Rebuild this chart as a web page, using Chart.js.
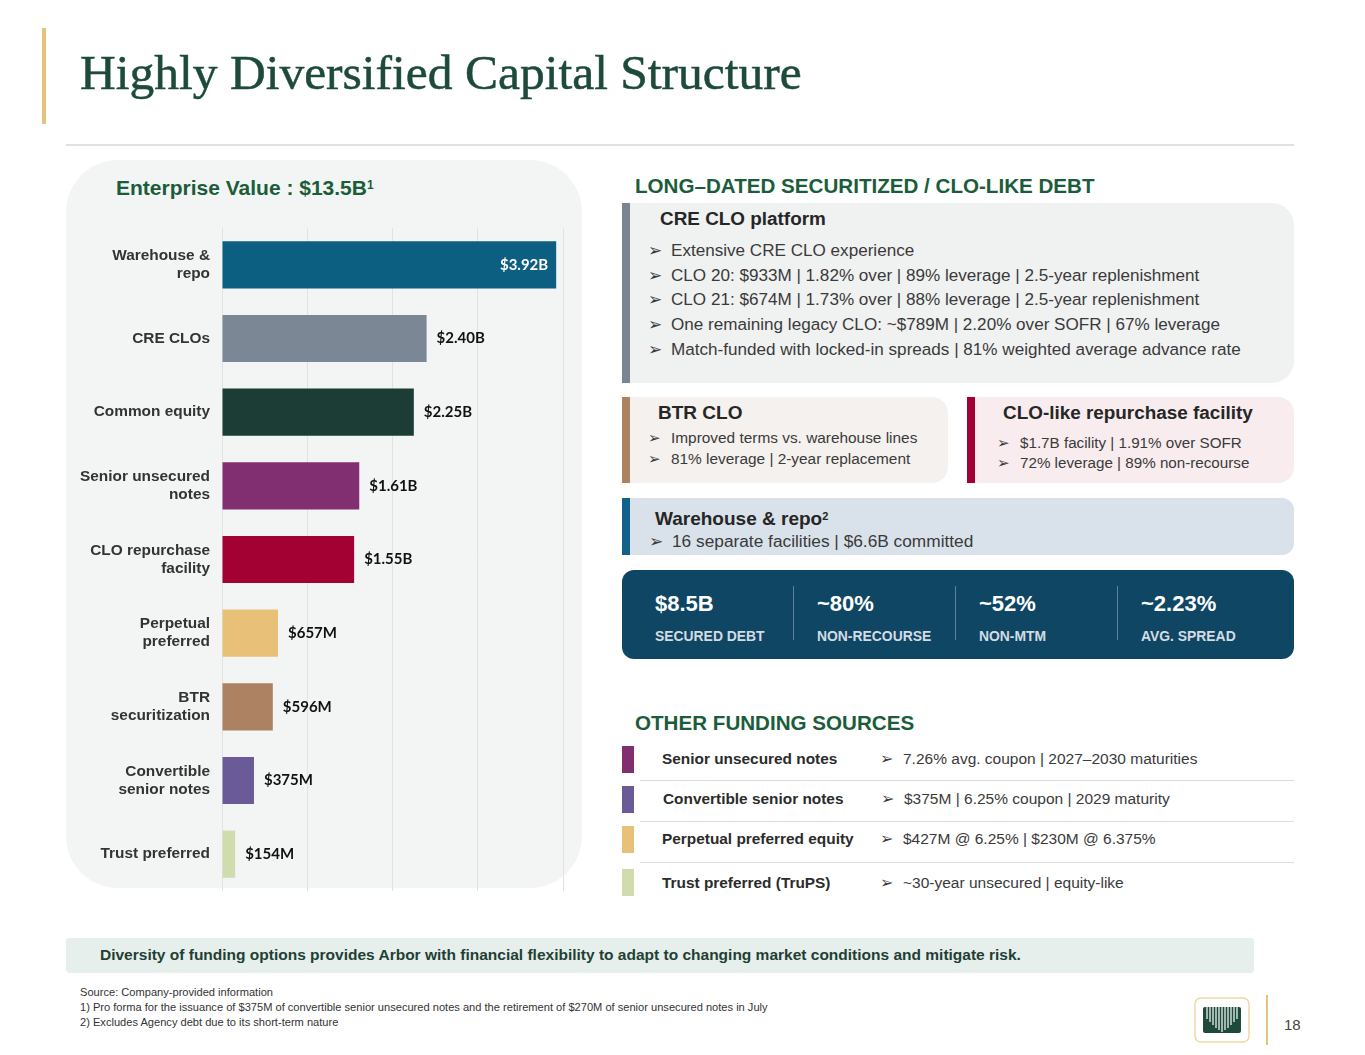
<!DOCTYPE html>
<html>
<head>
<meta charset="utf-8">
<script src="https://cdn.jsdelivr.net/npm/chart.js@4.4.1/dist/chart.umd.min.js"></script>
<style>
  body { margin: 0; background: #fff; font-family: "Liberation Sans", Arial, sans-serif; }
  #slide { position: relative; width: 1365px; height: 1055px; overflow: hidden; background: #fff; }
  .abs { position: absolute; }
  .title { left: 80px; top: 44px; font-family: "Liberation Serif", "DejaVu Serif", serif; font-size: 49.5px; color: #1d4a3b; white-space: nowrap; -webkit-text-stroke: 0.5px #1d4a3b; }
  .green-h { color: #1b5d3a; font-weight: bold; font-size: 20.6px; white-space: nowrap; }
  .panel { position: absolute; overflow: hidden; }
  .panel .bar { position: absolute; left: 0; top: 0; bottom: 0; width: 8px; }
  .ptitle { position: absolute; font-weight: bold; color: #262626; white-space: nowrap; }
  .bul { position: absolute; color: #3a3a3a; white-space: nowrap; }
  .ar { display: inline-block; width: 23px; }
  .stat { position: absolute; color: #fff; font-weight: bold; font-size: 22px; }
  .stat-l { position: absolute; color: #d3dce2; font-weight: bold; font-size: 13.9px; white-space: nowrap; }
  .divv { position: absolute; width: 1px; background: #5f819a; top: 586px; height: 54px; }
  .mark { position: absolute; left: 622px; width: 12px; height: 27px; }
  .rl { position: absolute; left: 662px; font-weight: bold; font-size: 15.4px; color: #2b2b2b; white-space: nowrap; }
  .rt { position: absolute; left: 880px; font-size: 15.5px; color: #3a3a3a; white-space: nowrap; }
  .sep { position: absolute; left: 640px; width: 654px; height: 1px; background: #dcdcdc; }
  .fn { position: absolute; left: 80px; font-size: 11.1px; color: #333; white-space: nowrap; }
</style>
</head>
<body>
<div id="slide">
  <div class="abs" style="left:42px;top:28px;width:4px;height:96px;background:#e5c27e;"></div>
  <div class="abs title">Highly Diversified Capital Structure</div>
  <div class="abs" style="left:66px;top:144px;width:1228px;height:2px;background:#dfe1e2;"></div>

  <!-- left chart panel -->
  <div class="abs" style="left:66px;top:160px;width:516px;height:728px;background:#f3f4f4;border-radius:52px;"></div>
  <div class="abs green-h" style="left:116px;top:176px;font-size:21px;">Enterprise Value : $13.5B<span style="font-size:12px;vertical-align:6px;">1</span></div>
  <canvas id="capChart" class="abs" style="left:66px;top:228px;" width="514" height="663"></canvas>

  <!-- right side -->
  <div class="abs green-h" style="left:635px;top:174px;">LONG–DATED SECURITIZED / CLO-LIKE DEBT</div>

  <div class="panel" style="left:622px;top:203px;width:672px;height:180px;background:#f0f1f1;border-radius:0 22px 22px 0;">
    <div class="bar" style="background:#7b8591;"></div>
  </div>
  <div class="ptitle" style="left:660px;top:208px;font-size:18.9px;">CRE CLO platform</div>
  <div class="bul" style="left:648px;top:240px;font-size:17.1px;"><span class="ar">➢</span>Extensive CRE CLO experience</div>
  <div class="bul" style="left:648px;top:265px;font-size:17.1px;"><span class="ar">➢</span>CLO 20: $933M | 1.82% over | 89% leverage | 2.5-year replenishment</div>
  <div class="bul" style="left:648px;top:289px;font-size:17.1px;"><span class="ar">➢</span>CLO 21: $674M | 1.73% over | 88% leverage | 2.5-year replenishment</div>
  <div class="bul" style="left:648px;top:314px;font-size:17.1px;"><span class="ar">➢</span>One remaining legacy CLO: ~$789M | 2.20% over SOFR | 67% leverage</div>
  <div class="bul" style="left:648px;top:339px;font-size:17.1px;"><span class="ar">➢</span>Match-funded with locked-in spreads | 81% weighted average advance rate</div>

  <div class="panel" style="left:622px;top:397px;width:326px;height:86px;background:#f5f1ee;border-radius:0 16px 16px 0;">
    <div class="bar" style="background:#ad8262;"></div>
  </div>
  <div class="ptitle" style="left:658px;top:402px;font-size:19px;">BTR CLO</div>
  <div class="bul" style="left:648px;top:429px;font-size:15.4px;"><span class="ar">➢</span>Improved terms vs. warehouse lines</div>
  <div class="bul" style="left:648px;top:450px;font-size:15.4px;"><span class="ar">➢</span>81% leverage | 2-year replacement</div>

  <div class="panel" style="left:967px;top:397px;width:327px;height:86px;background:#f8ecee;border-radius:0 16px 16px 0;">
    <div class="bar" style="background:#a30034;"></div>
  </div>
  <div class="ptitle" style="left:1003px;top:402px;font-size:18.9px;">CLO-like repurchase facility</div>
  <div class="bul" style="left:997px;top:434px;font-size:15.2px;"><span class="ar">➢</span>$1.7B facility | 1.91% over SOFR</div>
  <div class="bul" style="left:997px;top:454px;font-size:15.2px;"><span class="ar">➢</span>72% leverage | 89% non-recourse</div>

  <div class="panel" style="left:622px;top:498px;width:672px;height:57px;background:#d9e2ea;border-radius:0 12px 12px 0;">
    <div class="bar" style="background:#13618a;"></div>
  </div>
  <div class="ptitle" style="left:655px;top:508px;font-size:19px;">Warehouse &amp; repo<span style="font-size:11px;vertical-align:5px;">2</span></div>
  <div class="bul" style="left:649px;top:531px;font-size:17.3px;"><span class="ar">➢</span>16 separate facilities | $6.6B committed</div>

  <div class="abs" style="left:622px;top:570px;width:672px;height:89px;background:#0e4664;border-radius:12px;"></div>
  <div class="stat" style="left:655px;top:591px;">$8.5B</div>
  <div class="stat-l" style="left:655px;top:628px;">SECURED DEBT</div>
  <div class="divv" style="left:793px;"></div>
  <div class="stat" style="left:817px;top:591px;">~80%</div>
  <div class="stat-l" style="left:817px;top:628px;">NON-RECOURSE</div>
  <div class="divv" style="left:955px;"></div>
  <div class="stat" style="left:979px;top:591px;">~52%</div>
  <div class="stat-l" style="left:979px;top:628px;">NON-MTM</div>
  <div class="divv" style="left:1117px;"></div>
  <div class="stat" style="left:1141px;top:591px;">~2.23%</div>
  <div class="stat-l" style="left:1141px;top:628px;">AVG. SPREAD</div>

  <div class="abs green-h" style="left:635px;top:711px;">OTHER FUNDING SOURCES</div>

  <div class="mark" style="top:746px;background:#812f70;"></div>
  <div class="rl" style="top:750px;">Senior unsecured notes</div>
  <div class="rt" style="top:750px;"><span class="ar">➢</span>7.26% avg. coupon | 2027–2030 maturities</div>
  <div class="sep" style="top:780px;"></div>
  <div class="mark" style="top:786px;background:#6a5a97;"></div>
  <div class="rl" style="top:790px;left:663px;">Convertible senior notes</div>
  <div class="rt" style="top:790px;left:881px;"><span class="ar">➢</span>$375M | 6.25% coupon | 2029 maturity</div>
  <div class="sep" style="top:821px;"></div>
  <div class="mark" style="top:826px;background:#e8c078;"></div>
  <div class="rl" style="top:830px;">Perpetual preferred equity</div>
  <div class="rt" style="top:830px;"><span class="ar">➢</span>$427M @ 6.25% | $230M @ 6.375%</div>
  <div class="sep" style="top:862px;"></div>
  <div class="mark" style="top:869px;background:#cfdcae;"></div>
  <div class="rl" style="top:874px;">Trust preferred (TruPS)</div>
  <div class="rt" style="top:874px;"><span class="ar">➢</span>~30-year unsecured | equity-like</div>

  <!-- bottom -->
  <div class="abs" style="left:66px;top:938px;width:1188px;height:35px;background:#e6efec;border-radius:4px;"></div>
  <div class="abs" style="left:100px;top:946px;font-size:15.5px;font-weight:bold;color:#1e3f33;white-space:nowrap;">Diversity of funding options provides Arbor with financial flexibility to adapt to changing market conditions and mitigate risk.</div>
  <div class="fn" style="top:986px;">Source: Company-provided information</div>
  <div class="fn" style="top:1001px;">1) Pro forma for the issuance of $375M of convertible senior unsecured notes and the retirement of $270M of senior unsecured notes in July</div>
  <div class="fn" style="top:1016px;">2) Excludes Agency debt due to its short-term nature</div>

  <svg class="abs" style="left:1194px;top:997px;" width="56" height="46" viewBox="0 0 56 46">
    <rect x="1" y="1" width="54" height="44" rx="6" fill="#fff" stroke="#ecd9a4" stroke-width="1.5"/>
    <rect x="9" y="10" width="38" height="26" rx="2" fill="#1d4a3b"/>
    <g stroke="#fff" stroke-width="1.2">
      <line x1="13" y1="10" x2="13" y2="22"/><line x1="16" y1="10" x2="16" y2="25"/>
      <line x1="19" y1="10" x2="19" y2="28"/><line x1="22" y1="10" x2="22" y2="31"/>
      <line x1="25" y1="10" x2="25" y2="33"/><line x1="28" y1="10" x2="28" y2="35"/>
      <line x1="31" y1="10" x2="31" y2="33"/><line x1="34" y1="10" x2="34" y2="31"/>
      <line x1="37" y1="10" x2="37" y2="28"/><line x1="40" y1="10" x2="40" y2="25"/>
      <line x1="43" y1="10" x2="43" y2="22"/>
    </g>
  </svg>
  <div class="abs" style="left:1266px;top:995px;width:2px;height:50px;background:#e5c27e;"></div>
  <div class="abs" style="left:1284px;top:1016px;font-size:15px;color:#444;">18</div>
</div>

<script>
// capital structure, $B
const categories = [
  ['Warehouse &', 'repo'],
  'CRE CLOs',
  'Common equity',
  ['Senior unsecured', 'notes'],
  ['CLO repurchase', 'facility'],
  ['Perpetual', 'preferred'],
  ['BTR', 'securitization'],
  ['Convertible', 'senior notes'],
  'Trust preferred'
];
const amounts = [3.92, 2.40, 2.25, 1.61, 1.55, 0.657, 0.596, 0.375, 0.154];
const barColors = ['#0d5f82', '#7b8795', '#1c3d35', '#812f70', '#a30034', '#e8c078', '#ad8262', '#6a5a97', '#cfdcae'];
const axisTicks = [0, 1, 2, 3, 4];

function fmtAmount(v) {
  return v >= 1 ? '$' + v.toFixed(2) + 'B' : '$' + Math.round(v * 1000) + 'M';
}

const valueLabels = {
  id: 'valueLabels',
  afterDatasetsDraw(chart) {
    const c = chart.ctx;
    const area = chart.chartArea;
    c.save();
    c.font = 'bold 15px Lato, "Open Sans", sans-serif';
    c.textBaseline = 'middle';
    chart.getDatasetMeta(0).data.forEach((bar, i) => {
      const txt = fmtAmount(amounts[i]);
      const w = c.measureText(txt).width;
      if (bar.x + 10 + w > area.right) {
        c.fillStyle = '#fff';
        c.textAlign = 'right';
        c.fillText(txt, bar.x - 8, bar.y);
      } else {
        c.fillStyle = '#111';
        c.textAlign = 'left';
        c.fillText(txt, bar.x + 10, bar.y);
      }
    });
    c.restore();
  }
};

new Chart(document.getElementById('capChart'), {
  type: 'bar',
  data: {
    labels: categories,
    datasets: [{
      data: amounts,
      backgroundColor: barColors,
      borderWidth: 0,
      categoryPercentage: 0.8,
      barPercentage: 0.8
    }]
  },
  options: {
    indexAxis: 'y',
    responsive: false,
    animation: false,
    layout: { padding: { right: 17, top: 0, bottom: 0, left: 0 } },
    plugins: { legend: { display: false }, tooltip: { enabled: false } },
    scales: {
      x: {
        min: axisTicks[0],
        max: axisTicks[axisTicks.length - 1],
        afterBuildTicks: s => { s.ticks = axisTicks.map(v => ({ value: v })); },
        ticks: { display: false },
        grid: { color: '#e1e3e3', drawTicks: false },
        border: { display: false },
        afterFit: s => { s.height = 0; s.paddingLeft = 0; s.paddingRight = 0; }
      },
      y: {
        ticks: {
          color: '#333',
          padding: 12,
          font: { family: '"Liberation Sans", Arial, sans-serif', weight: 'bold', size: 15.4, lineHeight: 1.17 }
        },
        grid: { display: false, drawTicks: false },
        border: { display: false },
        afterFit: s => { s.width = 156; s.paddingTop = 0; s.paddingBottom = 0; }
      }
    }
  },
  plugins: [valueLabels]
});
</script>
</body>
</html>
